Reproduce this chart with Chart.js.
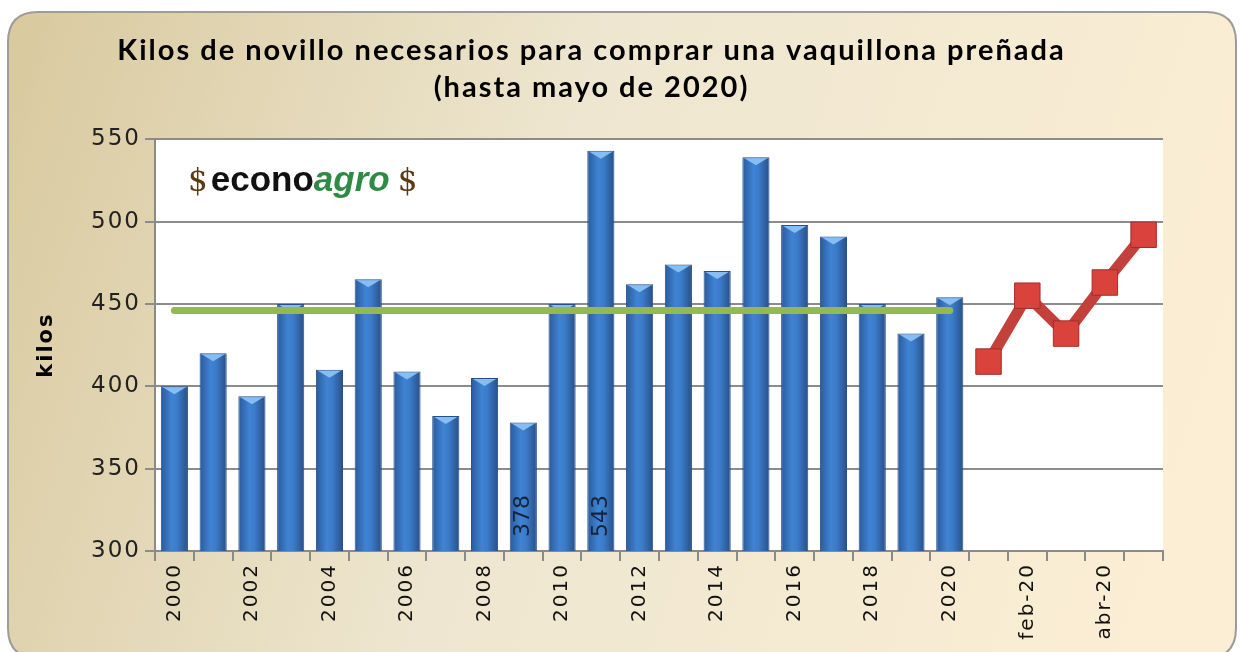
<!DOCTYPE html>
<html>
<head>
<meta charset="utf-8">
<script src="https://cdn.jsdelivr.net/npm/chart.js@4/dist/chart.umd.min.js"></script>
<style>
  html, body { margin: 0; padding: 0; background: #fff; }
  #wrap { width: 1241px; height: 652px; }
</style>
</head>
<body>
<div id="wrap"><canvas id="chart" width="1241" height="652"></canvas></div>
<script>
// datos
const anios = ['2000', '2001', '2002', '2003', '2004', '2005', '2006', '2007', '2008', '2009', '2010',
  '2011', '2012', '2013', '2014', '2015', '2016', '2017', '2018', '2019', '2020'];
const meses = ['ene-20', 'feb-20', 'mar-20', 'abr-20', 'may-20'];
const kilosAnuales = [400, 420, 394, 450, 410, 465, 409, 382, 405, 378, 450,
  543, 462, 474, 470, 539, 498, 491, 450, 432, 454];
const kilosMensuales = [415, 455, 432, 463, 492];
const promedio = 446;
const barrasConEtiqueta = [9, 11];
const yTicks = [300, 350, 400, 450, 500, 550];

const labels = anios.concat(meses);
const barData = kilosAnuales.concat(meses.map(() => null));
const promedioData = anios.map(() => promedio).concat(meses.map(() => null));
const mesesData = anios.map(() => null).concat(kilosMensuales);

function roundRect(ctx, x, y, w, h, r) {
  ctx.beginPath();
  ctx.moveTo(x + r, y);
  ctx.lineTo(x + w - r, y);
  ctx.quadraticCurveTo(x + w, y, x + w, y + r);
  ctx.lineTo(x + w, y + h - r);
  ctx.quadraticCurveTo(x + w, y + h, x + w - r, y + h);
  ctx.lineTo(x + r, y + h);
  ctx.quadraticCurveTo(x, y + h, x, y + h - r);
  ctx.lineTo(x, y + r);
  ctx.quadraticCurveTo(x, y, x + r, y);
  ctx.closePath();
}

const fondo = {
  id: 'fondo',
  beforeDraw(chart) {
    const ctx = chart.ctx;
    const a = chart.chartArea;
    ctx.save();
    const g = ctx.createLinearGradient(8, 12, 1236, 400);
    g.addColorStop(0, '#d8c99e');
    g.addColorStop(0.45, '#eee6d0');
    g.addColorStop(1, '#fbeed4');
    roundRect(ctx, 8, 12, 1228, 646, 30);
    ctx.fillStyle = g;
    ctx.fill();
    ctx.lineWidth = 2;
    ctx.strokeStyle = '#9c9c9c';
    ctx.stroke();
    ctx.fillStyle = '#ffffff';
    ctx.fillRect(a.left, a.top, a.right - a.left, a.bottom - a.top);
    ctx.restore();
    // letras un poco separadas para titulo y ejes
    ctx.letterSpacing = '2px';
  },
  beforeDatasetsDraw(chart) {
    chart.ctx.letterSpacing = '0px';
  },
  afterDatasetDraw(chart, args) {
    if (args.index !== 0) return;
    const ctx = chart.ctx;
    ctx.save();
    args.meta.data.forEach((bar, i) => {
      if (barData[i] == null) return;
      const half = bar.width / 2;
      ctx.beginPath();
      ctx.moveTo(bar.x - half + 2, bar.y + 1);
      ctx.lineTo(bar.x + half - 2, bar.y + 1);
      ctx.lineTo(bar.x, bar.y + 8);
      ctx.closePath();
      ctx.fillStyle = '#86bdf2';
      ctx.fill();
    });
    // etiquetas verticales
    ctx.fillStyle = '#16243a';
    ctx.font = '22px "DejaVu Sans"';
    ctx.textAlign = 'left';
    ctx.textBaseline = 'middle';
    barrasConEtiqueta.forEach(i => {
      const bar = args.meta.data[i];
      ctx.save();
      ctx.translate(bar.x, chart.chartArea.bottom - 14);
      ctx.rotate(-Math.PI / 2);
      ctx.fillText(String(barData[i]), 0, 0);
      ctx.restore();
    });
    ctx.restore();
  },
  afterDraw(chart) {
    const ctx = chart.ctx;
    ctx.save();
    ctx.letterSpacing = '0px';
    ctx.textBaseline = 'alphabetic';
    ctx.textAlign = 'left';
    let x = 188;
    const y = 191;
    ctx.font = '31px "DejaVu Serif"';
    ctx.fillStyle = '#5a3a12';
    ctx.fillText('$', x, y);
    x += ctx.measureText('$').width + 3;
    ctx.font = 'bold 35px "Liberation Sans"';
    ctx.fillStyle = '#111';
    ctx.fillText('econo', x, y);
    x += ctx.measureText('econo').width;
    ctx.font = 'italic bold 35px "Liberation Sans"';
    ctx.fillStyle = '#2f8a45';
    ctx.fillText('agro', x, y);
    x += ctx.measureText('agro').width + 8;
    ctx.font = '31px "DejaVu Serif"';
    ctx.fillStyle = '#5a3a12';
    ctx.fillText('$', x, y);
    ctx.restore();
  }
};

function barGradient(context) {
  const chart = context.chart;
  if (!chart.chartArea) return '#3a77c4';
  const xs = chart.scales.x;
  const x = xs.getPixelForValue(context.dataIndex);
  const half = (xs.getPixelForValue(1) - xs.getPixelForValue(0)) * 0.35;
  const g = chart.ctx.createLinearGradient(x - half, 0, x + half, 0);
  g.addColorStop(0, '#2a5a9c');
  g.addColorStop(0.4, '#3f83d3');
  g.addColorStop(0.6, '#3b7cca');
  g.addColorStop(1, '#284f88');
  return g;
}

new Chart(document.getElementById('chart'), {
  type: 'bar',
  data: {
    labels: labels,
    datasets: [
      {
        type: 'bar',
        data: barData,
        backgroundColor: barGradient,
        borderColor: '#25508a',
        borderWidth: 1,
        categoryPercentage: 1,
        barPercentage: 0.7,
        order: 2
      },
      {
        type: 'line',
        data: promedioData,
        borderColor: '#93ba50',
        borderWidth: 7,
        borderCapStyle: 'round',
        pointRadius: 0,
        fill: false,
        order: 1
      },
      {
        type: 'line',
        data: mesesData,
        borderColor: '#c4403b',
        borderWidth: 11,
        pointStyle: 'rect',
        pointRadius: 18,
        pointBackgroundColor: '#d9433c',
        pointBorderColor: '#a22d28',
        pointBorderWidth: 1,
        fill: false,
        order: 0
      }
    ]
  },
  options: {
    responsive: false,
    animation: false,
    layout: { padding: { left: 20, right: 78, top: 0, bottom: 0 } },
    plugins: {
      legend: { display: false },
      tooltip: { enabled: false },
      title: {
        display: true,
        text: ['Kilos de novillo necesarios para comprar una vaquillona preñada', '(hasta mayo de 2020)'],
        color: '#000',
        font: { family: 'Lato', size: 29, weight: 'bold', lineHeight: 1.28 },
        padding: { top: 32, bottom: 33 }
      }
    },
    scales: {
      x: {
        offset: true,
        grid: { display: true, drawOnChartArea: false, drawTicks: true, tickLength: 10, color: '#8a8a8a', lineWidth: 2 },
        border: { color: '#8a8a8a', width: 2 },
        ticks: {
          autoSkip: false,
          minRotation: 90,
          maxRotation: 90,
          padding: 2,
          color: '#111',
          font: { family: 'DejaVu Sans', size: 20 },
          callback: (v, i) => (i % 2 === 0 ? labels[i] : '')
        },
        afterFit: s => { s.height = 101; }
      },
      y: {
        min: 300,
        max: 550,
        afterBuildTicks: s => { s.ticks = yTicks.map(v => ({ value: v })); },
        grid: { color: '#8c8c8c', lineWidth: 2, tickLength: 10 },
        border: { color: '#8a8a8a', width: 2 },
        ticks: {
          padding: 4,
          color: '#222',
          font: { family: 'DejaVu Sans', size: 23 }
        },
        title: {
          display: true,
          text: 'kilos',
          color: '#000',
          font: { family: 'DejaVu Sans', size: 21, weight: 'bold' },
          padding: { top: 14, bottom: 0 }
        },
        afterFit: s => { s.width = 135; }
      }
    }
  },
  plugins: [fondo]
});
</script>
</body>
</html>
